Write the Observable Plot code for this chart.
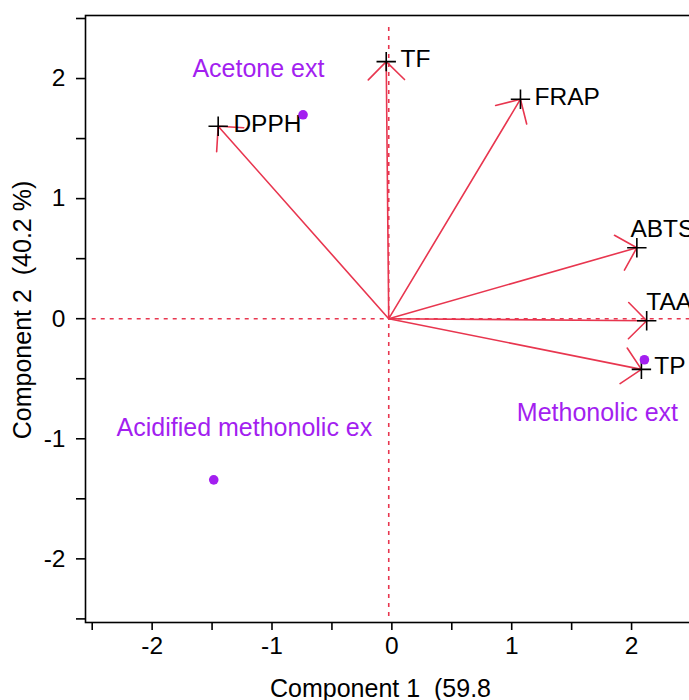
<!DOCTYPE html>
<html>
<head>
<meta charset="utf-8">
<script src="https://cdn.jsdelivr.net/npm/d3@7"></script>
<script src="https://cdn.jsdelivr.net/npm/@observablehq/plot@0.6"></script>
<style>
  html, body { margin: 0; padding: 0; background: #fff; overflow: hidden; }
  #chart svg { max-width: none !important; display: block; }
  svg text { white-space: pre; }
</style>
</head>
<body>
<div id="chart"></div>
<script>
// Variable loadings (arrow tips)
const varNames = ["TF", "FRAP", "DPPH", "ABTS", "TAA", "TP"];
const varX = [-0.047, 1.073, -1.449, 2.044, 2.126, 2.082];
const varY = [2.141, 1.828, 1.603, 0.591, -0.017, -0.422];
const varLabelX = [0.072, 1.19, -1.322, 1.99, 2.123, 2.19];
const varLabelY = [2.163, 1.842, 1.617, 0.747, 0.135, -0.394];

// Sample scores
const groupNames = ["Acetone ext", "Acidified methonolic ex", "Methonolic ext"];
const groupX = [-0.741, -1.486, 2.107];
const groupY = [1.698, -1.342, -0.342];
const groupLabelX = [-1.113, -1.23, 1.715];
const groupLabelY = [2.079, -0.910, -0.789];

// Origin of the biplot and zero lines
const originX = [-0.026];
const originY = [0];
const zeroLineXSpan = [-2.5, 2.56];
const zeroLineYSpan = [-2.48, 2.44];

// Axes
const tickValues = [-2.5, -2, -1.5, -1, -0.5, 0, 0.5, 1, 1.5, 2, 2.5];
const xTitle = "Component 1  (59.8";
const yTitle = "Component 2  (40.2 %)";

const red = "#e8364f";
const purple = "#a31ff0";
const font = "Liberation Sans, Arial, sans-serif";

const vars = varNames.map((n, i) => ({name: n, x: varX[i], y: varY[i], lx: varLabelX[i], ly: varLabelY[i]}));
const groups = groupNames.map((n, i) => ({name: n, x: groupX[i], y: groupY[i], lx: groupLabelX[i], ly: groupLabelY[i]}));
const fmt = d => Number.isInteger(d) ? String(d) : "";

const chart = Plot.plot({
  width: 730,
  height: 700,
  marginLeft: 85,
  marginRight: 33,
  marginTop: 15,
  marginBottom: 78,
  style: {fontFamily: font, background: "white", maxWidth: "none"},
  x: {domain: [-2.556, 2.55]},
  y: {domain: [-2.53, 2.525]},
  marks: [
    Plot.ruleX(originX, {x: d => d, y1: zeroLineYSpan[0], y2: zeroLineYSpan[1], stroke: red, strokeWidth: 1.6, strokeDasharray: "4,5"}),
    Plot.ruleY(originY, {y: d => d, x1: zeroLineXSpan[0], x2: zeroLineXSpan[1], stroke: red, strokeWidth: 1.6, strokeDasharray: "4,5"}),
    Plot.arrow(vars, {x1: () => originX[0], y1: () => originY[0], x2: "x", y2: "y", stroke: red, strokeWidth: 1.6, headAngle: 90, headLength: 24}),
    Plot.dot(vars, {x: "x", y: "y", symbol: "plus", r: 6.3, stroke: "black", strokeWidth: 1.6}),
    Plot.text(vars, {x: "lx", y: "ly", text: "name", textAnchor: "start", lineAnchor: "middle", fontSize: 24.5, fill: "black"}),
    Plot.dot(groups, {x: "x", y: "y", r: 4.8, fill: purple, stroke: "none"}),
    Plot.text(groups, {x: "lx", y: "ly", text: "name", textAnchor: "middle", lineAnchor: "middle", fontSize: 25, fill: purple}),
    Plot.frame({stroke: "black", strokeWidth: 1.6}),
    Plot.axisX({ticks: tickValues, tickFormat: fmt, tickSize: 8, tickPadding: 6, fontSize: 24.5, label: null, strokeWidth: 1.6}),
    Plot.axisY({ticks: tickValues, tickFormat: fmt, tickSize: 9, tickPadding: 11, fontSize: 24.5, label: null, strokeWidth: 1.6}),
    Plot.text([xTitle], {frameAnchor: "bottom", text: d => d, dx: -11, dy: 66, textAnchor: "middle", lineAnchor: "middle", fontSize: 25, fill: "black"}),
    Plot.text([yTitle], {frameAnchor: "left", text: d => d, dx: -63, dy: -9, rotate: -90, textAnchor: "middle", lineAnchor: "middle", fontSize: 25, fill: "black"})
  ]
});
document.getElementById("chart").appendChild(chart);
</script>
</body>
</html>
